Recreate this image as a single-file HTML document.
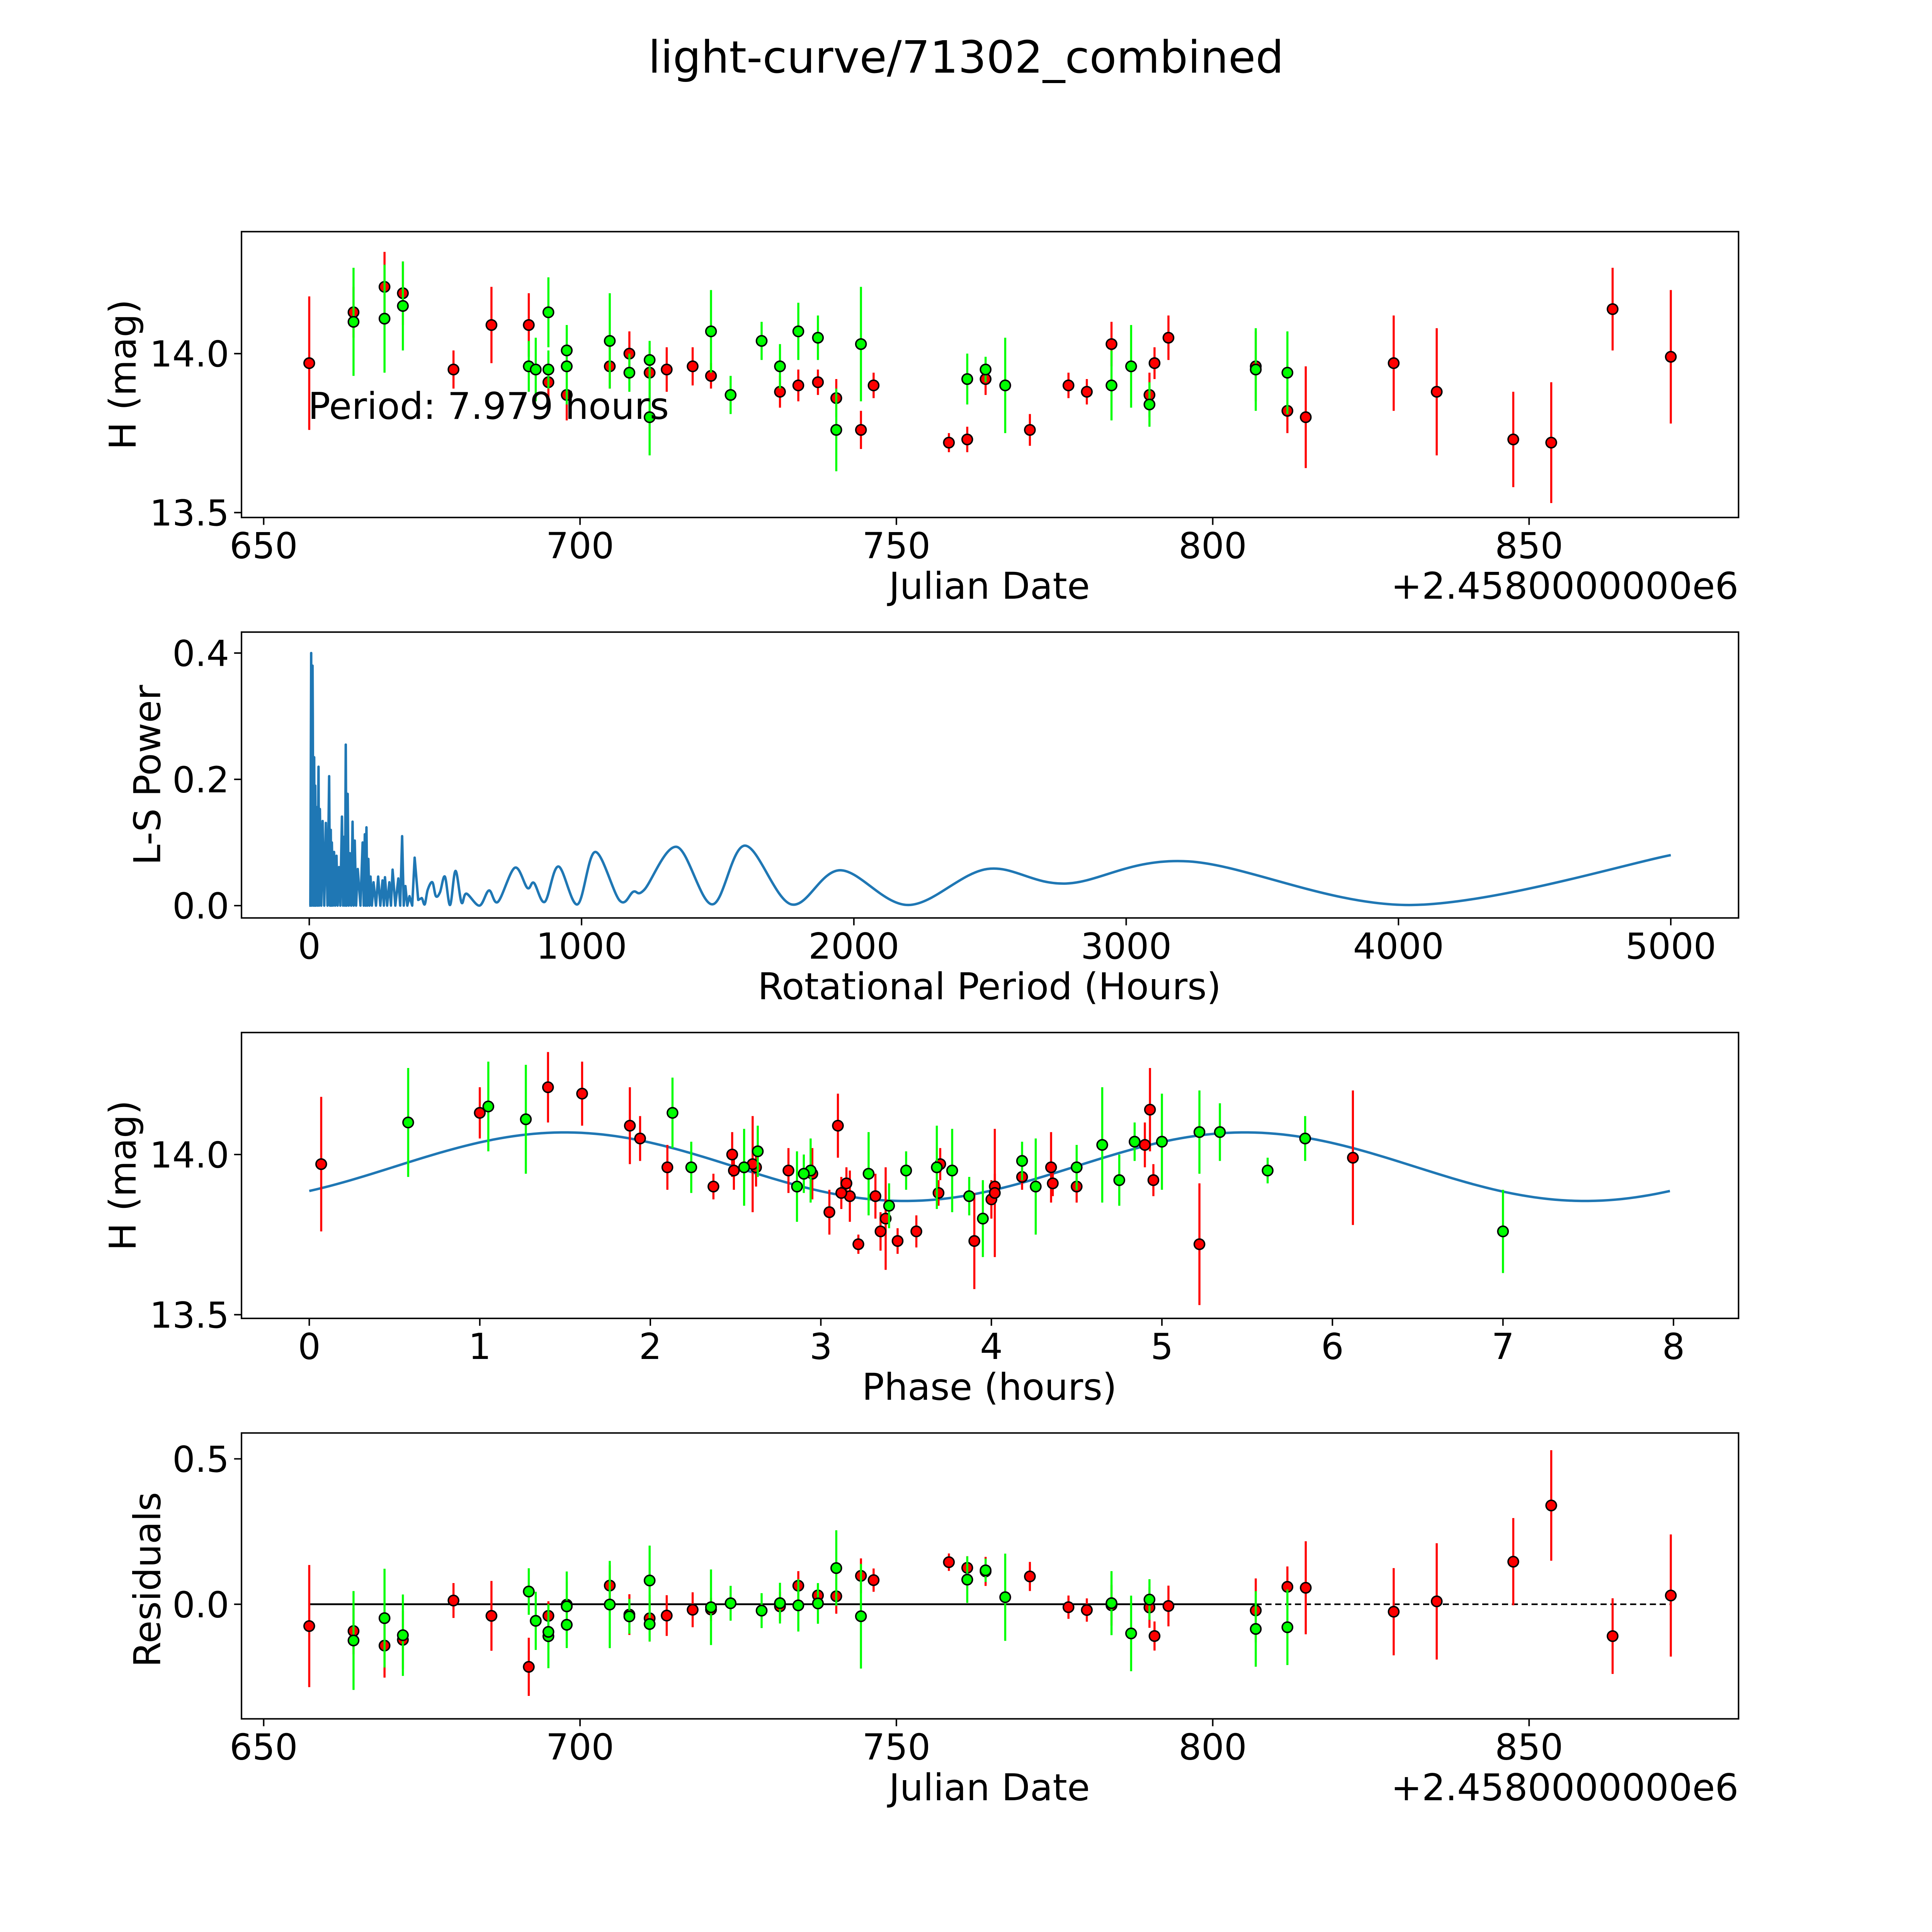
<!DOCTYPE html>
<html><head><meta charset="utf-8"><style>
html,body{margin:0;padding:0;background:#fff;width:100%;height:100%;overflow:hidden}
svg{display:block;width:100vw;height:100vh}
text{font-family:"DejaVu Sans","Liberation Sans",sans-serif;fill:#000}
</style></head><body>
<svg id="fig" xmlns="http://www.w3.org/2000/svg" viewBox="0 0 1568 1568" preserveAspectRatio="none">
<rect width="1568" height="1568" fill="#fff"/>
<text x="784" y="59" font-size="36" text-anchor="middle">light-curve/71302_combined</text>
<g id="g1"></g>
<g id="g2"></g>
<g id="g3"></g>
<g id="g4"></g>
</svg>
<script>
// ---- data ----
const redDate=[657.2,664.2,669.1,672,680,686,691.9,695,697.9,704.7,707.8,711,713.7,717.8,720.7,731.6,734.5,737.6,740.5,744.4,746.4,758.3,761.2,764.1,771.1,777.2,780.1,784,790,790.8,793,806.8,811.8,814.7,828.6,835.4,847.5,853.5,863.2,872.4];
const redMag=[13.97,14.13,14.21,14.19,13.95,14.09,14.09,13.91,13.87,13.96,14.0,13.94,13.95,13.96,13.93,13.88,13.90,13.91,13.86,13.76,13.9,13.72,13.73,13.92,13.76,13.9,13.88,14.03,13.87,13.97,14.05,13.96,13.82,13.8,13.97,13.88,13.73,13.72,14.14,13.99];
const redErr=[0.21,0.08,0.11,0.1,0.06,0.12,0.1,0.05,0.08,0.07,0.07,0.08,0.07,0.06,0.04,0.05,0.05,0.04,0.06,0.06,0.04,0.03,0.04,0.05,0.05,0.04,0.04,0.07,0.07,0.05,0.07,0.11,0.07,0.16,0.15,0.2,0.15,0.19,0.13,0.21];
const redPhase=[0.07,1.0,1.4,1.6,2.49,1.88,3.1,3.15,3.17,2.1,2.48,2.95,2.81,2.62,4.18,3.12,4.5,4.36,4.0,3.35,2.37,3.22,3.45,4.95,3.56,4.02,3.69,4.9,3.32,3.7,1.94,4.35,3.05,3.38,2.6,4.02,3.9,5.22,4.93,6.12];
const greenDate=[664.2,669.1,672,691.9,693,695,695,697.9,697.9,704.7,707.8,711,711,720.7,723.8,728.7,731.6,734.5,737.6,740.5,744.4,761.2,764.1,767.2,784,787.1,790,806.8,811.8];
const greenMag=[14.1,14.11,14.15,13.96,13.95,14.13,13.95,13.96,14.01,14.04,13.94,13.98,13.8,14.07,13.87,14.04,13.96,14.07,14.05,13.76,14.03,13.92,13.95,13.9,13.9,13.96,13.84,13.95,13.94];
const greenErr=[0.17,0.17,0.14,0.08,0.1,0.11,0.06,0.12,0.08,0.15,0.06,0.06,0.12,0.13,0.06,0.06,0.07,0.09,0.07,0.13,0.18,0.08,0.04,0.15,0.11,0.13,0.07,0.13,0.13];
const greenPhase=[0.58,1.27,1.05,2.24,2.94,2.13,3.5,2.55,2.63,5.0,2.9,4.18,3.95,5.22,3.87,4.84,4.5,5.34,5.84,7.0,4.65,4.75,5.62,4.26,2.86,3.68,3.4,3.77,3.28];
const lsPeriod=[0,4,7,9,12,13,15,18,20,22,24,27,30,34,36,39,44,49,55,61,67,73,76,79,81,83,87,91,95,100,104,109,114,120,124,128,131,134,137,141,145,149,154,159,163,167,172,178,188,196,200,204,207,210,213,217,221,225,230,236,245,253,261,269,274,278,286,294,300,306,316,327,334,341,347,353,360,368,378,387,400,413,424,435,452,465,480,498,517,537,559,577,625,660,693,755,801,825,865,915,985,1050,1140,1190,1230,1350,1480,1600,1770,1950,2200,2490,2780,3230,4050,5000];
const lsPower=[0,0,0.40,0,0.38,0.30,0,0.235,0,0.19,0,0.156,0,0.22,0,0.153,0,0.134,0,0.131,0,0.205,0,0.12,0,0.10,0,0.085,0,0.079,0,0.061,0,0.141,0,0.109,0,0.255,0,0.177,0,0.083,0,0.133,0,0.103,0,0.058,0,0.10,0,0.113,0,0.124,0,0.074,0,0.046,0,0.037,0,0.046,0,0.04,0,0.045,0,0.037,0,0.057,0,0.043,0,0.11,0,0.031,0,0.015,0,0.076,0.009,0.012,0.002,0.025,0.037,0.015,0.021,0.046,0.001,0.055,0.005,0.019,0,0.024,0.006,0.06,0.028,0.036,0.006,0.062,0.002,0.085,0.008,0.022,0.025,0.093,0.002,0.095,0.002,0.056,0.001,0.058,0.035,0.07,0.001,0.08];
const modelMean=13.962, modelAmp=0.107, modelPeriod=7.979;
const jdTicks=[650,700,750,800,850];
const magTicks=[13.5,14.0];
const lsXTicks=[0,1000,2000,3000,4000,5000];
const lsYTicks=[0.0,0.2,0.4];
const phTicks=[0,1,2,3,4,5,6,7,8];
const resTicks=[0.0,0.5];

// ---- axes ----
const p1x=d=>214+(d-650)*5.135, p1y=m=>287-(m-14)*258;
const p2x=p=>251+p*0.221, p2y=v=>735-v*512.5;
const p3x=t=>251+t*138.4, p3y=m=>937-(m-14)*260;
const p4x=p1x, p4y=r=>1302-r*236;
const model=t=>modelMean+modelAmp*Math.sin(2*Math.PI*(t-0.5)/(modelPeriod/2));
const NS='http://www.w3.org/2000/svg';
const TICK_FS=29, LABEL_FS=30;
function mk(parent,tag,attrs,txt){const e=document.createElementNS(NS,tag);for(const k in attrs)e.setAttribute(k,attrs[k]);if(txt!==undefined)e.textContent=txt;parent.appendChild(e);return e;}
function frame(g,top,name){
  const r=mk(g,'rect',{x:196,y:top,width:1215,height:232,fill:'none',stroke:'#000','stroke-width':1.2});
  
  
}
function xticks(g,top,ticks,fx,fmt,name){
  ticks.forEach(t=>{const x=fx(t);
    const l=mk(g,'line',{x1:x,x2:x,y1:top+232,y2:top+238,stroke:'#000','stroke-width':1.2});
    
    
    const s=mk(g,'text',{x:x,y:top+265,'font-size':TICK_FS,'text-anchor':'middle'},fmt(t));
    
    
  });
}
function yticks(g,ticks,fy,fmt,name){
  ticks.forEach(t=>{const y=fy(t);
    const l=mk(g,'line',{x1:190,x2:196,y1:y,y2:y,stroke:'#000','stroke-width':1.2});
    
    
    const s=mk(g,'text',{x:186,y:y+10.5,'font-size':TICK_FS,'text-anchor':'end'},fmt(t));
    
    
  });
}
function label(g,x,y,txt,rot,name){
  const s=mk(g,'text',{x:x,y:y,'font-size':LABEL_FS,'text-anchor':'middle',transform:rot?`rotate(-90 ${x} ${y})`:''},txt);
  
  
}
function points(g,xs,ys,errs,fx,fy,color,name){
  xs.forEach((v,i)=>{
    const x=fx(v), y=fy(ys[i]);
    const e=mk(g,'line',{x1:x,x2:x,y1:fy(ys[i]+errs[i]),y2:fy(ys[i]-errs[i]),stroke:color,'stroke-width':1.7});
    
    
  });
  xs.forEach((v,i)=>{
    const c=mk(g,'circle',{cx:fx(v),cy:fy(ys[i]),r:4.2,fill:color,stroke:'#000','stroke-width':1.2});
    
    
  });
}
const f1=t=>t.toFixed(1), f0=t=>String(t);
const red='#ff0000', green='#00ff00';

// panel 1
const g1=document.getElementById('g1');
frame(g1,188,'light-curve');
xticks(g1,188,jdTicks,p1x,f0,'light-curve');
yticks(g1,magTicks,p1y,f1,'light-curve');
label(g1,803,486,'Julian Date',false,'light-curve-x-axis-title');
label(g1,110,304,'H (mag)',true,'light-curve-y-axis-title');
{const s=mk(g1,'text',{x:1411,y:486,'font-size':LABEL_FS,'text-anchor':'end'},'+2.4580000000e6');

}
points(g1,redDate,redMag,redErr,p1x,p1y,red,'red-observation');
points(g1,greenDate,greenMag,greenErr,p1x,p1y,green,'green-observation');
{const s=mk(g1,'text',{x:250,y:340,'font-size':LABEL_FS},'Period: 7.979 hours');

}

// panel 2
const g2=document.getElementById('g2');
frame(g2,513,'periodogram');
xticks(g2,513,lsXTicks,p2x,f0,'periodogram');
yticks(g2,lsYTicks,p2y,f1,'periodogram');
label(g2,803,811,'Rotational Period (Hours)',false,'periodogram-x-axis-title');
label(g2,130,629,'L-S Power',true,'periodogram-y-axis-title');
{
  const P=lsPeriod.map((p,i)=>[p2x(p),p2y(lsPower[i])]);
  let d='M'+P[0][0]+','+P[0][1];
  for(let i=1;i<P.length;i++){
    if(lsPeriod[i]<=420){d+=' L'+P[i][0]+','+P[i][1];continue;}
    const p0=P[i-2]||P[i-1],p1=P[i-1],p2=P[i],p3=P[i+1]||P[i];
    const c1=[p1[0]+(p2[0]-p0[0])/6,p1[1]+(p2[1]-p0[1])/6];
    const c2=[p2[0]-(p3[0]-p1[0])/6,p2[1]-(p3[1]-p1[1])/6];
    d+=` C${c1[0]},${c1[1]} ${c2[0]},${c2[1]} ${p2[0]},${p2[1]}`;
  }
  const l=mk(g2,'path',{d:d,fill:'none',stroke:'#1f77b4','stroke-width':2,'stroke-linejoin':'round'});
  
  
}

// panel 3
const g3=document.getElementById('g3');
frame(g3,838,'phase');
xticks(g3,838,phTicks,p3x,f0,'phase');
yticks(g3,magTicks,p3y,f1,'phase');
label(g3,803,1136,'Phase (hours)',false,'phase-x-axis-title');
label(g3,110,954,'H (mag)',true,'phase-y-axis-title');
{
  let d='';
  for(let i=0;i<=200;i++){const t=modelPeriod*i/200;d+=(i?' L':'M')+p3x(t)+','+p3y(model(t));}
  const l=mk(g3,'path',{d:d,fill:'none',stroke:'#1f77b4','stroke-width':2});
  
  
}
points(g3,redPhase,redMag,redErr,p3x,p3y,red,'red-phase');
points(g3,greenPhase,greenMag,greenErr,p3x,p3y,green,'green-phase');

// panel 4
const g4=document.getElementById('g4');
frame(g4,1163,'residuals');
xticks(g4,1163,jdTicks,p4x,f0,'residuals');
yticks(g4,resTicks,p4y,f1,'residuals');
label(g4,803,1461,'Julian Date',false,'residuals-x-axis-title');
label(g4,130,1282,'Residuals',true,'residuals-y-axis-title');
{const s=mk(g4,'text',{x:1411,y:1461,'font-size':LABEL_FS,'text-anchor':'end'},'+2.4580000000e6');

}
{
  const allD=redDate.concat(greenDate);
  const mn=Math.min(...allD), mx=Math.max(...allD);
  const a=mk(g4,'line',{x1:p4x(mn),x2:p4x(806.8),y1:p4y(0),y2:p4y(0),stroke:'#000','stroke-width':1.5});
  
  
  const b=mk(g4,'line',{x1:p4x(mn),x2:p4x(mx),y1:p4y(0),y2:p4y(0),stroke:'#000','stroke-width':1.3,'stroke-dasharray':'5 3'});
  
  
}
const redRes=redMag.map((m,i)=>model(redPhase[i])-m);
const greenRes=greenMag.map((m,i)=>model(greenPhase[i])-m);
points(g4,redDate,redRes,redErr,p4x,p4y,red,'red-residual');
points(g4,greenDate,greenRes,greenErr,p4x,p4y,green,'green-residual');
</script>
</body></html>
